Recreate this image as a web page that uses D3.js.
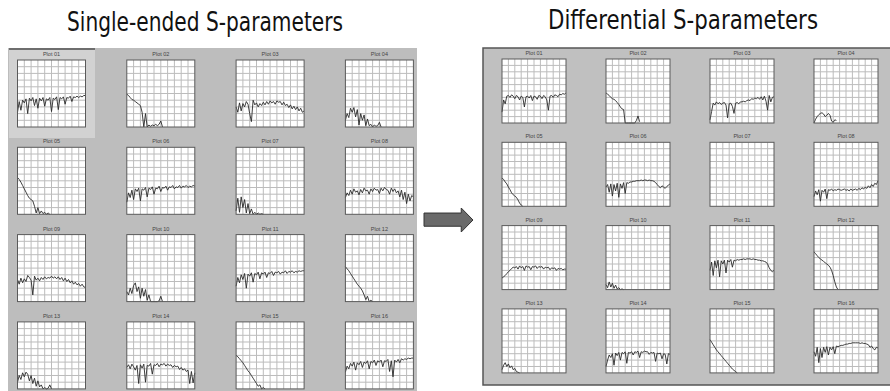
<!DOCTYPE html>
<html>
<head>
<meta charset="utf-8">
<script src="https://cdn.jsdelivr.net/npm/d3@7"></script>
<style>
  body { margin: 0; background: #fff; }
  svg { display: block; }
</style>
</head>
<body>
<div class="chart"></div>
<script>
// titles + plot captions
const titles = ["Single-ended S-parameters", "Differential S-parameters"];
const plotLabels = ["Plot 01", "Plot 02", "Plot 03", "Plot 04", "Plot 05", "Plot 06", "Plot 07", "Plot 08",
  "Plot 09", "Plot 10", "Plot 11", "Plot 12", "Plot 13", "Plot 14", "Plot 15", "Plot 16"];

// traces: grid units 0..10 from the bottom, one value every 1/4 division (null = no trace)
const se01 = [2.2,3.8,2.5,4.0,3.6,4.2,2.0,4.3,3.9,4.4,3.2,4.2,2.8,4.3,3.9,4.4,3.1,4.2,4.0,4.4,2.3,4.3,4.1,4.5,2.6,4.4,4.2,4.5,3.4,4.4,4.3,4.6,3.8,4.5,4.4,4.6,4.4,4.6,4.5,4.7,4.7];
const se02 = [4.9,4.7,4.4,4.1,4.0,3.8,3.6,3.4,3.2,2.2,0,2.0,0,0.3,0.1,0.3,0.2,0.4,0.2,0.4,0.9,0];
const se03 = [3.0,2.2,3.6,2.4,3.5,3.0,3.8,3.4,2.0,0.8,4.0,3.3,3.6,3.0,3.5,3.2,3.7,3.3,3.8,3.4,3.9,3.6,3.8,3.4,3.9,3.7,3.8,3.3,3.7,3.2,3.4,2.9,3.3,2.7,3.1,2.6,3.0,2.4,2.8,2.2,2.4];
const se04 = [1.0,2.0,1.4,2.8,2.2,2.9,1.5,2.6,0.3,2.0,1.0,1.8,0.2,1.2,0.2,0.4,0,0.3,0.1,0.2,0.7,0];
const se05 = [5.5,5.2,4.8,4.3,3.8,3.3,2.8,2.4,2.2,2.0,1.2,0.2,1.0,0.1,0.5,0.1,0.3,0,0.2,0];
const se06 = [1.8,3.2,2.5,3.6,2.2,3.8,3.4,3.9,2.0,3.8,3.6,4.0,2.6,3.9,3.7,4.1,3.0,3.9,3.8,4.2,3.4,4.0,3.9,4.2,3.6,4.1,4.0,4.3,3.8,4.1,4.0,4.3,3.9,4.2,4.1,4.3,4.0,4.2,4.1,4.3,4.2];
const se07 = [0.5,2.4,0.3,2.6,1.0,2.2,0.2,1.6,0.1,0.8,0,0.3,0,0.2,0,0.1,0];
const se08 = [2.5,3.2,2.8,3.6,3.0,3.8,3.3,3.5,2.9,3.7,3.2,3.9,3.5,3.6,3.0,3.8,3.4,3.9,3.6,3.7,3.1,3.9,3.5,4.0,3.7,3.6,3.0,3.9,3.4,3.8,3.2,3.5,2.6,3.6,2.2,3.3,1.6,3.0,2.0,2.8,2.6];
const se09 = [3.3,2.6,3.5,2.8,3.4,3.0,3.9,3.6,3.2,1.0,3.8,3.2,3.5,3.1,3.6,3.3,3.7,3.4,3.6,3.5,3.8,3.5,3.7,3.4,3.7,3.3,3.6,3.1,3.5,3.0,3.3,2.8,3.1,2.6,2.9,2.5,2.7,2.3,2.6,2.2,2.1];
const se10 = [1.5,1.0,2.0,1.2,2.4,2.8,1.5,2.2,0.5,2.0,0.8,1.8,0.2,1.0,0,0,0,0,0,0.1,0.8,0];
const se11 = [2.3,3.6,2.8,4.0,3.3,4.2,2.0,4.1,3.8,4.3,2.9,4.2,4.0,4.4,3.4,4.3,4.1,4.4,3.6,4.3,4.2,4.5,3.9,4.4,4.3,4.5,4.1,4.4,4.3,4.6,4.2,4.5,4.4,4.6,4.3,4.5,4.4,4.6,4.5,4.6,4.6];
const se12 = [5.2,4.9,4.6,4.2,3.8,3.4,3.0,2.6,2.3,2.0,1.6,1.0,0.3,0.8,0,0.2,0];
const se13 = [1.0,2.0,1.4,2.4,1.8,2.5,2.2,1.2,2.0,0.8,1.6,0.4,1.2,0.3,0.6,0,0.2,0,0.1,0.6,0];
const se14 = [3.2,3.6,3.0,3.7,3.3,2.8,3.5,0.8,3.6,3.1,3.7,1.0,3.5,3.4,3.8,2.2,3.6,3.5,3.8,3.3,3.7,3.6,3.8,3.4,3.7,3.5,3.6,3.2,3.5,3.3,3.4,2.9,3.2,2.8,3.0,2.6,2.8,0.8,2.6,0.9,2.4];
const se15 = [5.0,4.8,4.5,4.2,3.9,3.5,3.1,2.7,2.4,2.0,1.6,1.2,0.8,0.4,0.6,0,0.2,0];
const se16 = [2.5,3.4,3.0,3.8,3.4,4.0,2.8,3.9,3.6,4.1,3.2,4.0,3.8,4.2,3.0,4.1,3.9,4.3,3.5,4.2,4.0,4.3,3.3,4.2,4.1,4.4,2.6,4.2,1.8,4.3,4.0,4.4,3.9,4.5,4.3,4.5,4.4,4.6,4.5,4.6,4.6];

const df01 = [1.7,3.6,3.0,4.2,4.3,4.0,4.4,4.2,3.8,4.3,4.1,3.6,4.2,4.0,2.5,4.1,4.2,3.9,4.3,3.5,4.2,4.1,3.7,4.3,4.2,3.8,4.3,4.1,3.6,2.0,4.2,4.3,4.0,4.4,4.3,4.1,4.5,4.4,4.6,4.5,4.7];
const df02 = [4.7,4.5,4.3,4.0,3.8,3.7,3.5,3.2,2.9,2.5,2.2,2.1,0,0,0,0,0,0,0,0.4,1.1,0.2];
const df03 = [0.5,1.8,3.1,2.8,3.3,3.0,3.2,2.9,3.1,3.2,2.8,0.8,3.0,3.1,2.6,1.5,3.1,3.2,3.0,3.3,3.3,3.4,3.3,3.5,3.6,3.5,3.8,3.7,3.9,3.8,4.0,3.7,4.1,3.6,4.2,3.4,2.0,4.3,3.3,4.0,4.1];
const df04 = [0,0.6,1.0,1.3,1.5,1.6,1.4,1.0,1.2,1.5,1.2,0.3,0.1,0.5,0.4];
const df05 = [4.4,4.2,3.8,3.5,3.0,2.6,2.1,1.8,1.6,1.4,1.0,0.5,0.2,0];
const df06 = [3.0,3.4,2.2,3.5,1.6,3.4,2.4,3.6,1.4,3.5,2.8,3.7,2.0,3.7,3.6,3.8,3.8,3.9,3.9,4.0,4.0,4.0,4.1,4.0,4.1,4.1,4.0,4.1,4.0,4.0,3.9,3.7,3.4,3.1,2.9,3.2,3.0,2.8,3.1,3.3,3.5];
const df07 = [];
const df08 = [1.5,2.4,1.8,2.6,0.8,2.5,2.2,2.7,1.2,2.6,2.5,2.7,2.4,2.6,2.5,2.7,2.6,2.5,2.6,2.7,2.5,2.6,2.4,2.7,2.5,2.6,2.7,2.5,2.8,2.6,2.9,2.7,3.0,2.8,3.2,2.9,3.4,3.1,3.6,3.4,4.0];
const df09 = [1.8,2.0,2.2,2.5,2.8,3.0,3.3,3.5,3.4,3.6,3.2,3.7,3.4,3.6,3.0,3.7,3.5,3.6,3.1,3.6,3.5,3.7,3.3,3.6,3.5,3.6,3.2,3.5,3.4,3.5,3.1,3.4,3.3,3.4,3.0,3.3,3.2,3.3,3.1,3.2,3.2];
const df10 = [0.8,0.3,1.2,0.4,1.0,0.2,0.7,0.1,0.3,0,0.1,0];
const df11 = [3.0,4.3,2.2,4.5,3.4,4.6,2.0,4.5,4.0,4.6,2.6,4.6,4.3,4.7,3.5,4.6,4.5,4.7,4.6,4.7,4.7,4.8,4.7,4.8,4.8,4.8,4.7,4.8,4.7,4.7,4.6,4.6,4.5,4.5,4.4,4.3,4.0,3.4,3.0,2.8,3.0];
const df12 = [5.9,5.6,5.3,5.0,4.8,4.6,4.4,4.2,4.0,3.8,3.5,3.0,2.2,1.2,0.4,0];
const df13 = [0.5,1.2,1.6,1.0,1.4,0.8,1.1,0.5,0.7,0.2,0.1,0];
const df14 = [1.0,2.0,2.8,2.4,3.0,1.2,3.1,2.7,3.2,2.0,3.2,3.0,3.3,1.5,3.2,3.1,3.3,2.8,3.3,3.2,3.4,2.4,3.3,3.2,3.4,3.3,3.3,2.9,3.2,3.1,3.2,1.8,3.1,3.0,3.1,2.2,3.0,2.9,1.4,3.0,2.9];
const df15 = [5.2,4.8,4.4,4.0,3.6,3.3,3.0,2.7,2.4,2.1,1.8,1.5,1.2,0.9,0.6,0.4,0.2,0];
const df16 = [3.3,2.6,4.0,1.6,3.8,2.4,4.0,3.2,4.1,2.8,4.0,3.6,4.1,3.0,4.2,4.1,4.2,4.3,4.3,4.4,4.5,4.5,4.6,4.6,4.7,4.7,4.7,4.7,4.7,4.6,4.7,4.6,4.6,4.5,4.4,4.0,4.2,3.8,3.6,4.0,3.9];

const seTraces = [se01, se02, se03, se04, se05, se06, se07, se08, se09, se10, se11, se12, se13, se14, se15, se16];
const dfTraces = [df01, df02, df03, df04, df05, df06, df07, df08, df09, df10, df11, df12, df13, df14, df15, df16];

const W = 890, H = 391;

const svg = d3.select('.chart')
  .append('svg')
  .attr('width', W)
  .attr('height', H);

const titleFont = '"DejaVu Sans Condensed", "Liberation Sans Narrow", "Roboto", sans-serif';
const smallFont = '"Liberation Sans", Arial, sans-serif';

//one panel of 4x4 little plots
function drawPanel(cfg, traces) {
  const g = svg.append('g');

  g.append('rect')
    .attr('x', cfg.px)
    .attr('y', cfg.py)
    .attr('width', cfg.pw)
    .attr('height', cfg.ph)
    .attr('fill', cfg.bg)
    .attr('stroke', cfg.border)
    .attr('stroke-width', cfg.border === 'none' ? 0 : 1.5);

  //highlighted first plot (left panel only)
  if (cfg.selected) {
    g.append('rect')
      .attr('x', cfg.px + 1)
      .attr('y', cfg.py + 1)
      .attr('width', cfg.selected.w)
      .attr('height', cfg.selected.h)
      .attr('fill', '#d2d2d2');
    g.append('line')
      .attr('x1', cfg.px + 1)
      .attr('x2', cfg.px + 1 + cfg.selected.w)
      .attr('y1', cfg.py + 1)
      .attr('y2', cfg.py + 1)
      .attr('stroke', '#6e6e6e')
      .attr('stroke-width', 2);
  }

  g.append('text')
    .attr('x', cfg.tx)
    .attr('y', cfg.ty)
    .attr('text-anchor', 'middle')
    .attr('font-family', titleFont)
    .attr('font-size', 26)
    .attr('fill', '#111')
    .attr('textLength', cfg.tlen)
    .attr('lengthAdjust', 'spacingAndGlyphs')
    .text(cfg.title);

  const colX = d3.scaleLinear().domain([0, 3]).range([cfg.gx, cfg.gx + 3 * cfg.dx]);
  const rowY = d3.scaleLinear().domain([0, 3]).range([cfg.gy, cfg.gy + 3 * cfg.dy]);
  const x = d3.scaleLinear().domain([0, 40]).range([0, cfg.w]);
  const y = d3.scaleLinear().domain([0, 10]).range([cfg.h, 0]);
  const gx = d3.scaleLinear().domain([0, 10]).range([0, cfg.w]);

  const line = d3.line()
    .defined(d => d != null)
    .x((d, j) => x(j))
    .y(d => y(d));

  traces.forEach((vals, i) => {
    const c = i % 4, r = Math.floor(i / 4);
    const cell = g.append('g')
      .attr('transform', `translate(${colX(c)},${rowY(r)})`);

    cell.append('text')
      .attr('x', cfg.w / 2)
      .attr('y', -4)
      .attr('text-anchor', 'middle')
      .attr('font-family', smallFont)
      .attr('font-size', 5.5)
      .attr('fill', '#444')
      .text(plotLabels[i]);

    cell.append('rect')
      .attr('width', cfg.w)
      .attr('height', cfg.h)
      .attr('fill', '#fff');

    cell.selectAll('.vg')
      .data(d3.range(1, 10))
      .join('line')
      .attr('class', 'vg')
      .attr('x1', d => gx(d)).attr('x2', d => gx(d))
      .attr('y1', 0).attr('y2', cfg.h)
      .attr('stroke', '#bcbcbc')
      .attr('stroke-width', 1);

    cell.selectAll('.hg')
      .data(d3.range(1, 10))
      .join('line')
      .attr('class', 'hg')
      .attr('y1', d => y(d)).attr('y2', d => y(d))
      .attr('x1', 0).attr('x2', cfg.w)
      .attr('stroke', '#bcbcbc')
      .attr('stroke-width', 1);

    if (vals.length) {
      cell.append('path')
        .datum(vals)
        .attr('d', line)
        .attr('fill', 'none')
        .attr('stroke', '#2a2a2a')
        .attr('stroke-width', 0.9)
        .attr('stroke-linejoin', 'round');
    }

    cell.append('rect')
      .attr('width', cfg.w)
      .attr('height', cfg.h)
      .attr('fill', 'none')
      .attr('stroke', '#5a5a5a')
      .attr('stroke-width', 1);
  });
}

drawPanel({
  title: titles[0], tx: 205, ty: 31, tlen: 276,
  px: 8, py: 48, pw: 409, ph: 350, bg: '#bdbdbd', border: 'none',
  selected: { w: 86, h: 89 },
  gx: 17.5, gy: 60, dx: 109.3, dy: 87.3, w: 68, h: 67
}, seTraces);

drawPanel({
  title: titles[1], tx: 683, ty: 29, tlen: 270,
  px: 483, py: 48, pw: 410, ph: 337, bg: '#c0c0c0', border: '#555',
  gx: 502, gy: 59, dx: 104, dy: 83.3, w: 64, h: 64
}, dfTraces);

//arrow between the panels
const ax = d3.scaleLinear().domain([0, 1]).range([424, 473]);
const ay = d3.scaleLinear().domain([0, 1]).range([208, 232]);
const arrow = d3.path();
arrow.moveTo(ax(0), ay(0.21));
arrow.lineTo(ax(0.76), ay(0.21));
arrow.lineTo(ax(0.76), ay(0));
arrow.lineTo(ax(1), ay(0.5));
arrow.lineTo(ax(0.76), ay(1));
arrow.lineTo(ax(0.76), ay(0.76));
arrow.lineTo(ax(0), ay(0.76));
arrow.closePath();

svg.append('path')
  .attr('d', arrow.toString())
  .attr('fill', '#6a6a6a')
  .attr('stroke', '#333')
  .attr('stroke-width', 1);
</script>
</body>
</html>
